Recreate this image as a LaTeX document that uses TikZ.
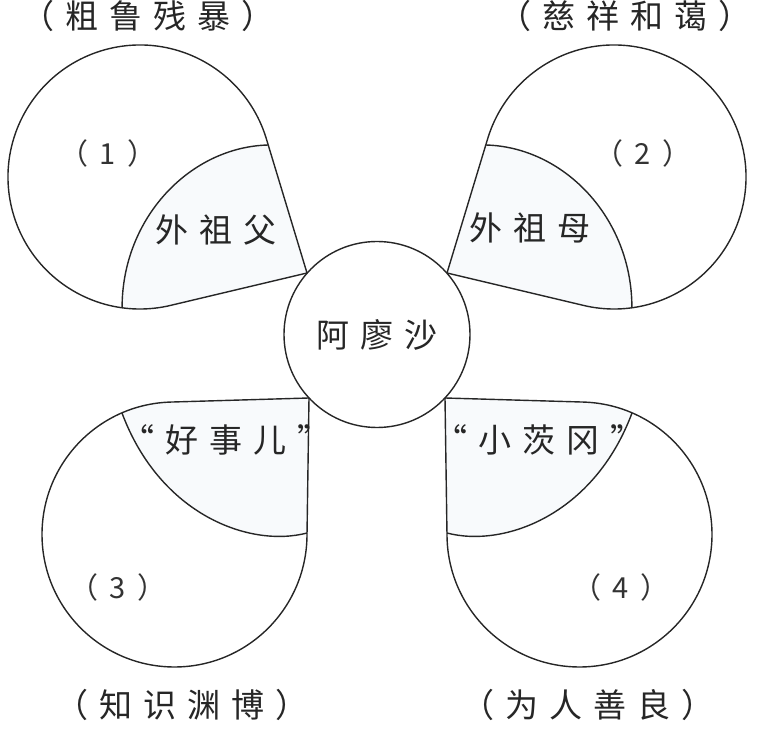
\documentclass[tikz,border=0pt]{standalone}
\usepackage{fontspec}
\newfontfamily\cjk[LetterSpace=33]{Noto Sans CJK SC}
\newfontfamily\cjknum[LetterSpace=40]{Noto Sans CJK SC}
\usetikzlibrary{calc}
\definecolor{innerfill}{RGB}{248,250,252}

\begin{document}
\begin{tikzpicture}[x=1pt, y=1pt, line width=1.4pt,
  lobe/.style={draw=black!85, line join=round},
  inner/.style={fill=innerfill},
  word/.style={font=\cjk\fontsize{33}{36}\selectfont, inner sep=0pt, text=black!85},
  numlbl/.style={font=\cjknum\fontsize{29}{32}\selectfont, inner sep=0pt, text=black!80}]
  \useasboundingbox (0,0) rectangle (761,731);

  % centres of the lobes and the corners where they touch the middle circle
  \coordinate (c1) at (140,554);   \coordinate (p1) at (307,458);
  \coordinate (c2) at (614,554);   \coordinate (p2) at (447,458);
  \coordinate (c3) at (174.5,196.5); \coordinate (p3) at (309,333);
  \coordinate (c4) at (579.5,196.5); \coordinate (p4) at (445,333);

  % pale inner parts
  \fill[inner] (268.2,586) .. controls (190,584) and (122,513) .. ($(c1)+(262.2:132)$)
    arc[start angle=262.2, end angle=283.38, radius=132] -- (p1) -- cycle;
  \fill[inner] (485.8,586) .. controls (564,584) and (632,513) .. ($(c2)+(-82.2:132)$)
    arc[start angle=-82.2, end angle=-103.38, radius=132] -- (p2) -- cycle;
  \fill[inner] ($(c3)+(113.37:132.5)$) .. controls (160,216) and (250,183) .. (307.05,198)
    -- (p3) -- ($(c3)+(91.68:132.5)$) arc[start angle=91.68, end angle=113.37, radius=132.5] -- cycle;
  \fill[inner] ($(c4)+(66.63:132.5)$) .. controls (594,216) and (504,183) .. (446.95,198)
    -- (p4) -- ($(c4)+(88.32:132.5)$) arc[start angle=88.32, end angle=66.63, radius=132.5] -- cycle;

  % outlines of the four lobes
  \draw[lobe] (p1) -- ($(c1)+(16.84:132)$) arc[start angle=16.84, end angle=283.38, radius=132] -- cycle;
  \draw[lobe] (p2) -- ($(c2)+(163.16:132)$) arc[start angle=163.16, end angle=-103.38, radius=132] -- cycle;
  \draw[lobe] (p3) -- ($(c3)+(91.68:132.5)$) arc[start angle=91.68, end angle=359.18, radius=132.5] -- cycle;
  \draw[lobe] (p4) -- ($(c4)+(88.32:132.5)$) arc[start angle=88.32, end angle=-179.18, radius=132.5] -- cycle;

  % dividing curves
  \draw[lobe] (268.2,586) .. controls (190,584) and (122,513) .. ($(c1)+(262.2:132)$);
  \draw[lobe] (485.8,586) .. controls (564,584) and (632,513) .. ($(c2)+(-82.2:132)$);
  \draw[lobe] ($(c3)+(113.37:132.5)$) .. controls (160,216) and (250,183) .. (307.05,198);
  \draw[lobe] ($(c4)+(66.63:132.5)$) .. controls (594,216) and (504,183) .. (446.95,198);

  \node[circle, draw=black!85, fill=white, minimum size=186pt, word] (alyosha) at (377,396.5) {阿廖沙};

  \node[word] (grandpa) at (216,501) {外祖父};
  \node[word] (grandma) at (530,503) {外祖母};
  \node[word] (goodbiz) at (226,291) {“好事儿”};
  \node[word] (gypsy) at (539,291) {“小茨冈”};

  \node[numlbl] (n1) at (108,578) {（1）};
  \node[numlbl] (n2) at (643,578) {（2）};
  \node[numlbl] (n3) at (118,144) {（3）};
  \node[numlbl] (n4) at (621,144) {（4）};

  \node[word] (trait1) at (148,715) {（粗鲁残暴）};
  \node[word] (trait2) at (625,715) {（慈祥和蔼）};
  \node[word] (trait3) at (182,26) {（知识渊博）};
  \node[word] (trait4) at (588,26) {（为人善良）};
\end{tikzpicture}
\end{document}
